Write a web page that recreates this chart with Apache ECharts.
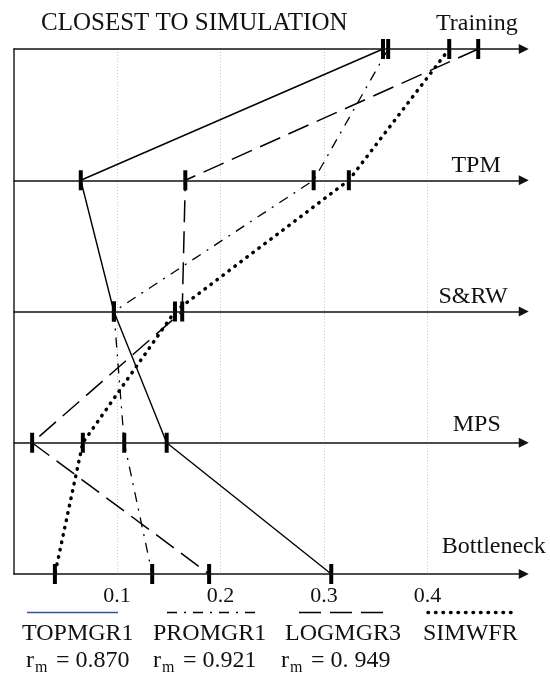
<!DOCTYPE html>
<html>
<head>
<meta charset="utf-8">
<script src="https://cdn.jsdelivr.net/npm/echarts@6/dist/echarts.min.js"></script>
<style>
  html, body { margin: 0; padding: 0; background: #fff; }
  #main { width: 550px; height: 684px; }
</style>
</head>
<body>
<div id="main"></div>
<script>
// levels from top to bottom
var levels = ['Training', 'TPM', 'S&RW', 'MPS', 'Bottleneck'];
var xTicks = [0.1, 0.2, 0.3, 0.4];

// value at each level, same order as levels
var topmgr1 = [0.357, 0.065, 0.097, 0.148, 0.307];
var promgr1 = [0.362, 0.290, 0.097, 0.107, 0.134];
var logmgr3 = [0.449, 0.166, 0.163, 0.018, 0.189];
var simwfr = [0.421, 0.324, 0.156, 0.067, 0.040];

var names = ['TOPMGR1', 'PROMGR1', 'LOGMGR3', 'SIMWFR'];
var rmValues = ['0.870', '0.921', '0. 949'];

var serif = "'Liberation Serif', 'Times New Roman', serif";
var axisEnd = 0.493;

// label nudges for the level names [dx, dy]
var levelLabelPos = [[6, 13], [23, 3], [16, 3], [23, 6], [-22, 15]];

var dashDot = [10, 7, 2, 7];
var dashed = [22, 9];
var dotted = [0.5, 7];

function toPoints(arr) {
    return arr.map(function (v, i) { return [v, i]; });
}

function makeSeries(name, arr, lineStyle) {
    return {
        name: name,
        type: 'line',
        data: toPoints(arr),
        symbol: 'rect',
        symbolSize: [4, 20],
        clip: false,
        itemStyle: { color: '#000' },
        lineStyle: Object.assign({ color: '#000' }, lineStyle),
        z: 3
    };
}

var chart = echarts.init(document.getElementById('main'), null, { renderer: 'canvas' });

var axisLines = levels.map(function (lv, i) {
    return [
        {
            coord: [0, i],
            name: lv,
            label: {
                show: true,
                position: 'insideEndTop',
                formatter: lv,
                distance: levelLabelPos[i],
                color: '#111',
                fontSize: 24,
                fontFamily: serif
            }
        },
        { coord: [axisEnd, i] }
    ];
});

// legend built by hand: sample line, name, r_m
var legendX = [22, 153, 285, 423];
var sampleX = [[27, 118], [167, 258], [299, 383], [428, 516]];
var sampleStyles = [
    { stroke: '#2e5597', lineWidth: 1.5 },
    { stroke: '#000', lineWidth: 1.3, lineDash: dashDot },
    { stroke: '#000', lineWidth: 1.5, lineDash: dashed },
    { stroke: '#000', lineWidth: 3.5, lineDash: dotted, lineCap: 'round' }
];
var graphics = [];
names.forEach(function (n, i) {
    graphics.push({
        type: 'line',
        shape: { x1: sampleX[i][0], y1: 612.5, x2: sampleX[i][1], y2: 612.5 },
        style: sampleStyles[i],
        silent: true
    });
    graphics.push({
        type: 'text',
        x: legendX[i],
        y: 634,
        style: { text: n, fontSize: 24, fontFamily: serif, fill: '#111', verticalAlign: 'middle' },
        silent: true
    });
});
var rmX = [26, 153, 281];
rmValues.forEach(function (v, i) {
    graphics.push({
        type: 'text', x: rmX[i], y: 661, silent: true,
        style: { text: 'r', fontSize: 24, fontFamily: serif, fill: '#111', verticalAlign: 'middle' }
    });
    graphics.push({
        type: 'text', x: rmX[i] + 9, y: 668, silent: true,
        style: { text: 'm', fontSize: 16, fontFamily: serif, fill: '#111', verticalAlign: 'middle' }
    });
    graphics.push({
        type: 'text', x: rmX[i] + 30, y: 661, silent: true,
        style: { text: '= ' + v, fontSize: 24, fontFamily: serif, fill: '#111', verticalAlign: 'middle' }
    });
});

var option = {
    animation: false,
    title: {
        text: 'CLOSEST TO SIMULATION',
        left: 41,
        top: 11,
        padding: 0,
        textStyle: { fontSize: 25, fontWeight: 'normal', fontFamily: serif, color: '#111' }
    },
    grid: { left: 13.5, right: 19, top: 49, bottom: 110 },
    xAxis: {
        type: 'value',
        min: 0,
        max: 0.5,
        interval: 0.1,
        axisLine: { show: false },
        axisTick: { show: false },
        axisLabel: {
            showMinLabel: false,
            showMaxLabel: false,
            margin: 11,
            fontSize: 22,
            fontFamily: serif,
            color: '#111',
            formatter: function (v) {
                return xTicks.indexOf(Math.round(v * 10) / 10) >= 0 ? v.toFixed(1) : '';
            }
        },
        splitLine: {
            show: true,
            showMinLine: false,
            showMaxLine: false,
            lineStyle: { color: '#c8c8c8', type: [1, 2], width: 1 }
        }
    },
    yAxis: {
        type: 'value',
        min: 0,
        max: 4,
        inverse: true,
        axisLine: { show: true, lineStyle: { color: '#222', width: 1.5 } },
        axisTick: { show: false },
        axisLabel: { show: false },
        splitLine: { show: false }
    },
    graphic: graphics,
    series: [
        {
            name: 'axes',
            type: 'line',
            data: [],
            markLine: {
                silent: true,
                symbol: ['none', 'triangle'],
                symbolSize: 10,
                lineStyle: { color: '#111', width: 1.6, type: 'solid' },
                data: axisLines
            }
        },
        makeSeries(names[0], topmgr1, { width: 1.4, type: 'solid' }),
        makeSeries(names[1], promgr1, { width: 1.3, type: dashDot }),
        makeSeries(names[2], logmgr3, { width: 1.5, type: dashed }),
        makeSeries(names[3], simwfr, { width: 3.5, type: dotted, cap: 'round' })
    ]
};

chart.setOption(option);
</script>
</body>
</html>
